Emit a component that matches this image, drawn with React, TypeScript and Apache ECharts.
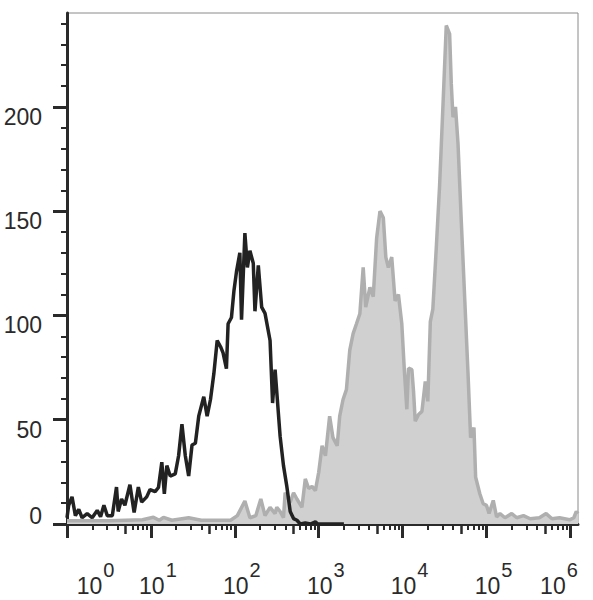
import React, { useEffect, useRef } from 'react';
import * as echarts from 'echarts';

// x values are log10 of fluorescence intensity (decades), y values are event counts
const X_DECADES = [0, 1, 2, 3, 4, 5, 6];
const X_MIN = 0;
const X_MAX = 6.09;
const Y_MIN = 0;
const Y_MAX = 245;
const Y_MAJOR = [0, 50, 100, 150, 200];
const Y_MINOR = [10, 20, 30, 40, 60, 70, 80, 90, 110, 120, 130, 140, 160, 170, 180, 190, 210, 220, 230, 240];
const MINOR_MULTIPLES = [2, 3, 4, 6, 7, 8, 9];
const MID_MULTIPLE = 5;

// unstained control (black outline)
const unstained: [number, number][] = [
  [0.0, 3], [0.02, 9], [0.06, 13], [0.1, 4], [0.14, 7], [0.18, 3], [0.24, 5], [0.3, 3],
  [0.36, 6.5], [0.4, 3.5], [0.44, 9], [0.48, 4], [0.54, 4], [0.59, 17.7], [0.61, 6], [0.65, 12],
  [0.69, 9], [0.75, 18.8], [0.8, 5.5], [0.85, 17.7], [0.89, 10.5], [0.95, 13], [0.99, 16.5],
  [1.05, 15.5], [1.09, 17.5], [1.13, 29.6], [1.16, 14.5], [1.19, 28], [1.23, 23], [1.29, 24],
  [1.33, 32.7], [1.37, 47.8], [1.41, 32.7], [1.45, 23], [1.49, 37.9], [1.53, 38.7], [1.57, 51.7],
  [1.63, 61], [1.67, 51.7], [1.71, 59.7], [1.75, 72], [1.79, 88], [1.83, 85], [1.86, 82],
  [1.9, 74.5], [1.92, 96], [1.96, 99], [1.99, 112], [2.02, 121], [2.06, 130], [2.08, 98],
  [2.12, 139.5], [2.15, 123], [2.18, 131], [2.22, 125], [2.24, 102], [2.28, 124], [2.32, 104],
  [2.36, 101], [2.42, 88], [2.45, 58], [2.48, 74], [2.54, 42], [2.58, 28], [2.62, 18], [2.66, 6],
  [2.7, 2.6], [2.74, 1.8], [2.78, 0], [2.84, 0.5], [2.9, 0], [2.96, 1], [2.99, 0], [3.1, 0], [3.3, 0]
];

// stained sample (filled grey)
const stained: [number, number][] = [
  [0.0, 1.5], [0.5, 1.5], [0.9, 2], [1.03, 3.2], [1.1, 1.8], [1.15, 3.2], [1.25, 1.8], [1.45, 3],
  [1.6, 1.8], [1.95, 1.8], [2.03, 4], [2.12, 11], [2.18, 3], [2.25, 4], [2.31, 12], [2.36, 4],
  [2.42, 8], [2.48, 5], [2.5, 8], [2.54, 6], [2.58, 3], [2.6, 15], [2.66, 10.5], [2.7, 15],
  [2.74, 12], [2.8, 8], [2.84, 21.6], [2.88, 17], [2.92, 18], [2.96, 16], [3.0, 24.8], [3.04, 37.5],
  [3.08, 32.7], [3.13, 51.7], [3.17, 41.4], [3.22, 37.5], [3.25, 51.7], [3.29, 59.7], [3.33, 64.4],
  [3.37, 83.4], [3.41, 91.3], [3.45, 96], [3.49, 100.8], [3.53, 123], [3.56, 104], [3.61, 113.5],
  [3.65, 109], [3.69, 137], [3.73, 150], [3.77, 146.8], [3.8, 127.8], [3.83, 123], [3.87, 128],
  [3.91, 107], [3.95, 110], [3.99, 96], [4.02, 74], [4.05, 55], [4.07, 74.7], [4.11, 74],
  [4.13, 63.6], [4.15, 49.3], [4.19, 52.5], [4.23, 54], [4.27, 68.3], [4.3, 58.8], [4.33, 97],
  [4.36, 103], [4.4, 131.7], [4.44, 161.8], [4.48, 200], [4.52, 239], [4.56, 235], [4.58, 211],
  [4.6, 195], [4.63, 200], [4.66, 182.4], [4.7, 144.4], [4.74, 108], [4.78, 71.5], [4.81, 41.4],
  [4.85, 46.2], [4.87, 22.4], [4.92, 14.5], [4.96, 9.7], [5.0, 8.9], [5.03, 5], [5.08, 11.3],
  [5.12, 3.4], [5.16, 5], [5.22, 3], [5.3, 5], [5.36, 3], [5.44, 4], [5.52, 2.5], [5.63, 3],
  [5.71, 5], [5.78, 2.5], [5.87, 3], [5.99, 2], [6.04, 3], [6.07, 6], [6.09, 5]
];

const FONT = "'Liberation Sans', Arial, sans-serif";
const INK = '#2a2a2a';

export default function App() {
  const ref = useRef<HTMLDivElement>(null);

  useEffect(() => {
    if (!ref.current) return;
    const chart = echarts.init(ref.current, null, { renderer: 'svg' });

    const minorX: number[] = [];
    const midX: number[] = [];
    X_DECADES.forEach((k) => {
      MINOR_MULTIPLES.forEach((m) => {
        const v = k + Math.log10(m);
        if (v <= X_MAX) minorX.push(v);
      });
      const v5 = k + Math.log10(MID_MULTIPLE);
      if (v5 <= X_MAX) midX.push(v5);
    });

    const tickOnlyX = (values: number[], length: number, width: number) => ({
      type: 'value',
      min: X_MIN,
      max: X_MAX,
      position: 'bottom',
      axisLine: { show: false },
      axisLabel: { show: false },
      splitLine: { show: false },
      axisTick: { show: true, customValues: values, length, lineStyle: { color: INK, width } },
    });

    const option: any = {
      animation: false,
      backgroundColor: '#ffffff',
      grid: {
        left: 67,
        right: 15,
        top: 13,
        bottom: 76,
        show: true,
        borderColor: '#8a8a8a',
        borderWidth: 1,
        containLabel: false,
        outerBoundsMode: 'none',
      },
      xAxis: [
        {
          type: 'value',
          min: X_MIN,
          max: X_MAX,
          position: 'bottom',
          axisLine: { show: true, onZero: false, lineStyle: { color: INK, width: 3 } },
          axisTick: { show: true, customValues: X_DECADES, length: 14, lineStyle: { color: INK, width: 3 } },
          splitLine: { show: false },
          axisLabel: {
            show: true,
            customValues: X_DECADES,
            margin: 49,
            color: INK,
            fontFamily: FONT,
            formatter: (val: number) => {
              const k = Math.round(val);
              if (k === 0) return `{b0|10}{s|${k}}`;
              if (k === 6) return `{b6|10}{s6|${k}}`;
              return `{b|10}{s|${k}}`;
            },
            rich: {
              b: { fontSize: 23, lineHeight: 24, verticalAlign: 'bottom', fontFamily: FONT, color: INK, padding: [0, 0, 0, 14] },
              b0: { fontSize: 23, lineHeight: 24, verticalAlign: 'bottom', fontFamily: FONT, color: INK, padding: [0, 0, 0, 57] },
              b6: { fontSize: 23, lineHeight: 24, verticalAlign: 'bottom', fontFamily: FONT, color: INK },
              s: { fontSize: 20, lineHeight: 20, verticalAlign: 'bottom', fontFamily: FONT, color: INK, padding: [0, 0, 17, 1] },
              s6: { fontSize: 20, lineHeight: 20, verticalAlign: 'bottom', fontFamily: FONT, color: INK, padding: [0, 23, 17, 1] },
            },
          },
        },
        tickOnlyX(minorX, 6, 2),
        tickOnlyX(midX, 10, 2.5),
      ],
      yAxis: [
        {
          type: 'value',
          min: Y_MIN,
          max: Y_MAX,
          position: 'left',
          axisLine: { show: true, onZero: false, lineStyle: { color: INK, width: 3 } },
          axisTick: { show: true, customValues: Y_MAJOR, length: 14, lineStyle: { color: INK, width: 3 } },
          splitLine: { show: false },
          axisLabel: {
            show: true,
            customValues: Y_MAJOR,
            margin: 25,
            color: INK,
            fontFamily: FONT,
            formatter: (val: number) => (val === 0 ? `{z|0}` : `{d|${val}}`),
            rich: {
              d: { fontSize: 23, fontFamily: FONT, color: INK, padding: [20, 0, 0, 0] },
              z: { fontSize: 23, fontFamily: FONT, color: INK, padding: [0, 0, 16, 0] },
            },
          },
        },
        {
          type: 'value',
          min: Y_MIN,
          max: Y_MAX,
          position: 'left',
          axisLine: { show: false },
          axisLabel: { show: false },
          splitLine: { show: false },
          axisTick: { show: true, customValues: Y_MINOR, length: 6, lineStyle: { color: INK, width: 2 } },
        },
      ],
      series: [
        {
          name: 'stained',
          type: 'line',
          xAxisIndex: 0,
          yAxisIndex: 0,
          data: stained,
          showSymbol: false,
          symbol: 'none',
          lineStyle: { color: '#afafaf', width: 3.5 },
          areaStyle: { color: '#d0d0d0', opacity: 1 },
          z: 2,
        },
        {
          name: 'unstained',
          type: 'line',
          xAxisIndex: 0,
          yAxisIndex: 0,
          data: unstained,
          showSymbol: false,
          symbol: 'none',
          lineStyle: { color: '#222222', width: 3.5 },
          z: 3,
        },
      ],
    };

    chart.setOption(option);
    return () => {
      chart.dispose();
    };
  }, []);

  return (
    <div
      ref={ref}
      style={{ position: 'fixed', left: 0, top: 0, width: 593, height: 600, background: '#fff' }}
    />
  );
}
